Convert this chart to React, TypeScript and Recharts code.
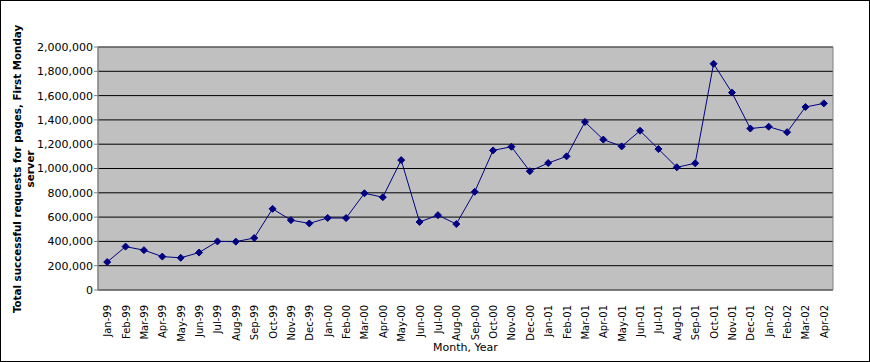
import React from 'react';
import { LineChart, Line, XAxis, YAxis, CartesianGrid, ReferenceArea } from 'recharts';

const months = [
  'Jan-99', 'Feb-99', 'Mar-99', 'Apr-99', 'May-99', 'Jun-99', 'Jul-99', 'Aug-99', 'Sep-99', 'Oct-99', 'Nov-99', 'Dec-99',
  'Jan-00', 'Feb-00', 'Mar-00', 'Apr-00', 'May-00', 'Jun-00', 'Jul-00', 'Aug-00', 'Sep-00', 'Oct-00', 'Nov-00', 'Dec-00',
  'Jan-01', 'Feb-01', 'Mar-01', 'Apr-01', 'May-01', 'Jun-01', 'Jul-01', 'Aug-01', 'Sep-01', 'Oct-01', 'Nov-01', 'Dec-01',
  'Jan-02', 'Feb-02', 'Mar-02', 'Apr-02',
];

const requests = [
  230000, 357000, 328000, 275000, 265000, 308000, 400000, 398000, 428000, 668000, 575000, 548000,
  593000, 592000, 796000, 764000, 1069000, 560000, 616000, 543000, 808000, 1149000, 1179000, 978000,
  1045000, 1100000, 1383000, 1238000, 1182000, 1311000, 1160000, 1010000, 1043000, 1862000, 1625000, 1329000,
  1344000, 1299000, 1506000, 1536000,
];

const yTicks = [0, 200000, 400000, 600000, 800000, 1000000, 1200000, 1400000, 1600000, 1800000, 2000000];

const data = requests.map((value, i) => ({ i, value }));
const centerTicks = months.map((_, i) => i);
const boundaryTicks = [...months.map((_, i) => i - 0.5), months.length - 0.5];

const FONT = 'Verdana, "DejaVu Sans", sans-serif';

const MonthTick = (props: any) => {
  const { x, y, payload } = props;
  return (
    <text
      x={0}
      y={0}
      transform={`translate(${x + 4},${y + 7}) rotate(-90)`}
      textAnchor="end"
      fontSize={10}
      fontFamily={FONT}
      fill="#000"
    >
      {months[payload.value]}
    </text>
  );
};

const Diamond = (props: any) => {
  const { cx, cy } = props;
  if (cx == null || cy == null) return null;
  const r = 3.5;
  return (
    <polygon
      points={`${cx},${cy - r} ${cx + r},${cy} ${cx},${cy + r} ${cx - r},${cy}`}
      fill="#000080"
      stroke="#000080"
    />
  );
};

const YTitle = () => (
  <text
    transform="translate(20,168) rotate(-90)"
    textAnchor="middle"
    fontSize={10.3}
    fontWeight="bold"
    fontFamily={FONT}
    fill="#000"
  >
    <tspan x={0} dy={0}>Total successful requests for pages, First Monday</tspan>
    <tspan x={0} dy={12.5}>server</tspan>
  </text>
);

export default function App() {
  return (
    <div
      style={{
        position: 'absolute',
        left: 0,
        top: 0,
        width: 870,
        height: 362,
        border: '1px solid #000',
        boxSizing: 'border-box',
        background: '#fff',
      }}
    >
      <LineChart width={868} height={360} data={data} margin={{ top: 46, right: 36, bottom: 0, left: 0 }}>
        <CartesianGrid vertical={false} horizontal stroke="#000" fill="#C0C0C0" strokeOpacity={1} />
        <ReferenceArea
          x1={-0.5}
          x2={months.length - 0.5}
          y1={0}
          y2={2000000}
          fill="none"
          stroke="#808080"
          strokeWidth={1}
          fillOpacity={0}
          xAxisId="main"
        />
        <XAxis
          xAxisId="bounds"
          type="number"
          dataKey="i"
          domain={[-0.5, months.length - 0.5]}
          ticks={boundaryTicks}
          tick={false}
          tickLine={{ stroke: '#808080' }}
          tickSize={5}
          axisLine={{ stroke: '#808080' }}
          height={0}
          allowDataOverflow
        />
        <XAxis
          xAxisId="main"
          type="number"
          dataKey="i"
          domain={[-0.5, months.length - 0.5]}
          ticks={centerTicks}
          interval={0}
          tick={<MonthTick />}
          tickLine={false}
          axisLine={false}
          height={71}
          allowDataOverflow
          label={{
            value: 'Month, Year',
            position: 'insideBottom',
            offset: 10,
            fontSize: 11,
            fontFamily: FONT,
            fill: '#000',
          }}
        />
        <YAxis
          type="number"
          domain={[0, 2000000]}
          ticks={yTicks}
          interval={0}
          width={97}
          tickSize={4}
          tickMargin={1}
          tickLine={{ stroke: '#808080' }}
          axisLine={{ stroke: '#808080' }}
          tick={{ fontSize: 11, fontFamily: FONT, fill: '#000' }}
          tickFormatter={(v: number) => v.toLocaleString('en-US')}
          label={<YTitle />}
        />
        <Line
          xAxisId="main"
          type="linear"
          dataKey="value"
          stroke="#000080"
          strokeWidth={1}
          dot={<Diamond />}
          activeDot={false}
          isAnimationActive={false}
        />
      </LineChart>
    </div>
  );
}
